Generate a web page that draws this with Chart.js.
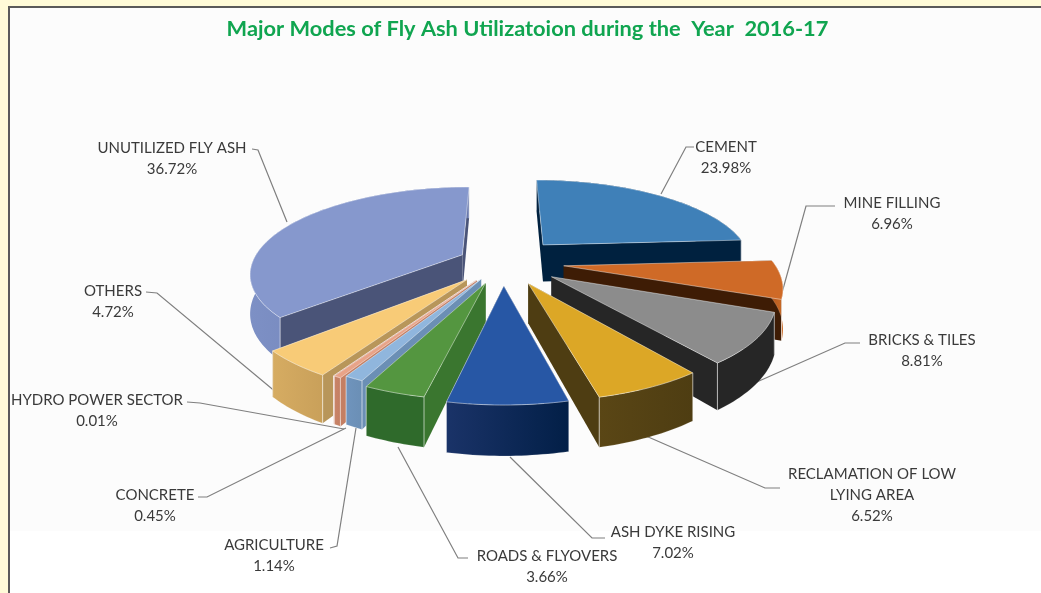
<!DOCTYPE html>
<html><head><meta charset="utf-8">
<style>html,body{margin:0;padding:0;background:#fffbd8;overflow:hidden}canvas{display:block}</style>
<script src="https://cdn.jsdelivr.net/npm/chart.js@4/dist/chart.umd.min.js"></script>
</head><body><div style="width:1041px;height:593px;position:relative"><canvas id="c" width="1041" height="593"></canvas></div>
<script>
const titleText = 'Major Modes of Fly Ash Utilizatoion during the  Year  2016-17';
const categories = ['CEMENT','MINE FILLING','BRICKS & TILES','RECLAMATION OF LOW|LYING AREA','ASH DYKE RISING','ROADS & FLYOVERS','AGRICULTURE','CONCRETE','HYDRO POWER SECTOR','OTHERS','UNUTILIZED FLY ASH'];
const values = [23.98,6.96,8.81,6.52,7.02,3.66,1.14,0.45,0.01,4.72,36.72];
const topColors = ['#3f80b8','#cf6a27','#8c8c8c','#dca726','#2757a5','#549640','#90b6dd','#e8a388','#d9a08a','#f8cb77','#8698cd'];
const cutColors = ['#00213f','#3e1c05','#262626','#4e3d12','#12285a','#3a762f','#6b8fb5','#c47f63','#c47f63','#b8965a','#4a5478'];
const rimLeft   = ['#00213f','#b55a20','#262626','#5a4615','#1a3368','#2f6a2b','#6f94bd','#c98468','#c98468','#d6ac62','#7d90c5'];
const rimRight  = ['#00213f','#c96a25','#262626','#4e3d12','#021f47','#2f6a2b','#6b8fb5','#c47f63','#c47f63','#c9a05a','#6878ac'];
const explode   = [0.29,0.29,0.28,0.27,0.27,0.25,0.22,0.24,0.24,0.26,0.215];

// label layout: centre x, first-line y, leader polyline
const labelX = [726,892,922,872,673,547,274,155,97,113,172];
const labelY = [147,203,340,474,532,556,545,495,400,291,148];
const leaders = [
 [[694,147],[686,147],[661,194]],
 [[835,206],[806,206],[780,300]],
 [[860,343],[845,343],[750,385]],
 [[780,488],[765,488],[646,436]],
 [[605,538],[592,538],[510,457]],
 [[468,558],[458,558],[398,447]],
 [[330,548],[337,546],[356,428]],
 [[198,497],[207,497],[346,428]],
 [[187,402],[200,403],[344,429]],
 [[146,292],[157,293],[283,398]],
 [[252,149],[258,150],[287,222]]
];

// perspective projection of the pie plane
const cam = {cx:503, cy:262, rx:210, ry:84, p:0.2, depth:38};
function proj(u,v,z){const w=1-cam.p*v;return [cam.cx+cam.rx*u/w, cam.cy+cam.ry*v/w+(z?cam.depth/w:0)];}

const pie3d = {
  id:'pie3d',
  beforeDraw(chart){
    const {ctx,width,height}=chart;
    ctx.save();
    ctx.fillStyle='#fffbd8';ctx.fillRect(0,0,width,height);
    ctx.fillStyle='#ffffff';ctx.fillRect(10,7,width-10,height-7);
    ctx.fillStyle='#fcfcfc';ctx.fillRect(10,7,width-10,524);
    ctx.fillStyle='#5a5a5a';ctx.fillRect(8,6,2,height-6);ctx.fillRect(8,6,width-8,2);
    ctx.restore();
    // leader lines sit behind the pie
    ctx.save();ctx.strokeStyle='#7f7f7f';ctx.lineWidth=1.2;
    leaders.forEach(pts=>{ctx.beginPath();pts.forEach((p,i)=>i?ctx.lineTo(p[0],p[1]):ctx.moveTo(p[0],p[1]));ctx.stroke();});
    ctx.restore();
  },
  beforeDatasetDraw(chart,args){
    const ctx=chart.ctx, els=args.meta.data;
    const items=els.map((el,i)=>{
      const a0=el.startAngle,a1=el.endAngle,mid=(a0+a1)/2;
      const off=explode[i];
      // unit coordinates taken from the library's arc geometry (0 rad = +x axis, y downwards)
      return {i,a0,a1,front:Math.sin(mid)>0,ox:off*Math.cos(mid),oy:off*Math.sin(mid),v:off*Math.sin(mid)+Math.sin(mid)*0.6};
    }).sort((a,b)=>a.v-b.v);
    items.forEach(s=>{
      const pts=[];const n=Math.max(4,Math.ceil((s.a1-s.a0)/0.02));
      for(let k=0;k<=n;k++){const a=s.a0+(s.a1-s.a0)*k/n;pts.push([s.ox+Math.cos(a),s.oy+Math.sin(a)]);}
      const apex=[s.ox,s.oy];
      const poly=(list,fill,stroke)=>{ctx.beginPath();list.forEach((p,i)=>i?ctx.lineTo(p[0],p[1]):ctx.moveTo(p[0],p[1]));ctx.closePath();ctx.fillStyle=fill;ctx.fill();if(stroke){ctx.strokeStyle=stroke;ctx.lineWidth=0.8;ctx.stroke();}};
      const seg=(a,b,c)=>{ctx.beginPath();ctx.moveTo(a[0],a[1]);ctx.lineTo(b[0],b[1]);ctx.strokeStyle=c;ctx.lineWidth=1;ctx.stroke();};
      ctx.save();ctx.lineJoin='round';
      const tp=pts.map(p=>proj(p[0],p[1],false)), bt=pts.map(p=>proj(p[0],p[1],true));
      const at=proj(apex[0],apex[1],false), ab=proj(apex[0],apex[1],true);
      // cut faces
      poly([at,tp[0],bt[0],ab],cutColors[s.i]);
      poly([at,tp[n],bt[n],ab],cutColors[s.i]);
      // rim
      const xs=tp.map(p=>p[0]);const g=ctx.createLinearGradient(Math.min(...xs),0,Math.max(...xs),0);
      g.addColorStop(0,rimLeft[s.i]);g.addColorStop(1,rimRight[s.i]);
      poly(tp.concat(bt.slice().reverse()),g,s.front?'rgba(255,255,255,0.18)':null);
      // light corner edges
      seg(tp[0],bt[0],'rgba(255,255,255,0.5)');
      seg(tp[n],bt[n],'rgba(255,255,255,0.5)');
      // top
      poly([at].concat(tp),els[s.i].options.backgroundColor,'rgba(255,255,255,0.55)');
      ctx.restore();
    });
    return false;
  },
  afterDraw(chart){
    const ctx=chart.ctx;ctx.save();
    ctx.textAlign='center';ctx.textBaseline='middle';ctx.fillStyle='#3a3a3a';
    ctx.font='15px Lato';
    categories.forEach((c,i)=>{
      const lines=c.split('|').concat([values[i].toFixed(2)+'%']);
      lines.forEach((t,k)=>ctx.fillText(t,labelX[i],labelY[i]+k*21));
    });
    ctx.restore();
  }
};

new Chart(document.getElementById('c'),{
  type:'pie',
  data:{labels:categories,datasets:[{data:values,backgroundColor:topColors,borderWidth:0}]},
  options:{
    responsive:false,animation:false,
    layout:{padding:{left:14,top:0}},
    plugins:{
      legend:{display:false},tooltip:{enabled:false},
      title:{display:true,text:titleText,color:'#10a550',fullSize:false,
        font:{family:'Lato',size:21.8,weight:'bold'},padding:{top:16,bottom:10}}
    }
  },
  plugins:[pie3d]
});
</script></body></html>
